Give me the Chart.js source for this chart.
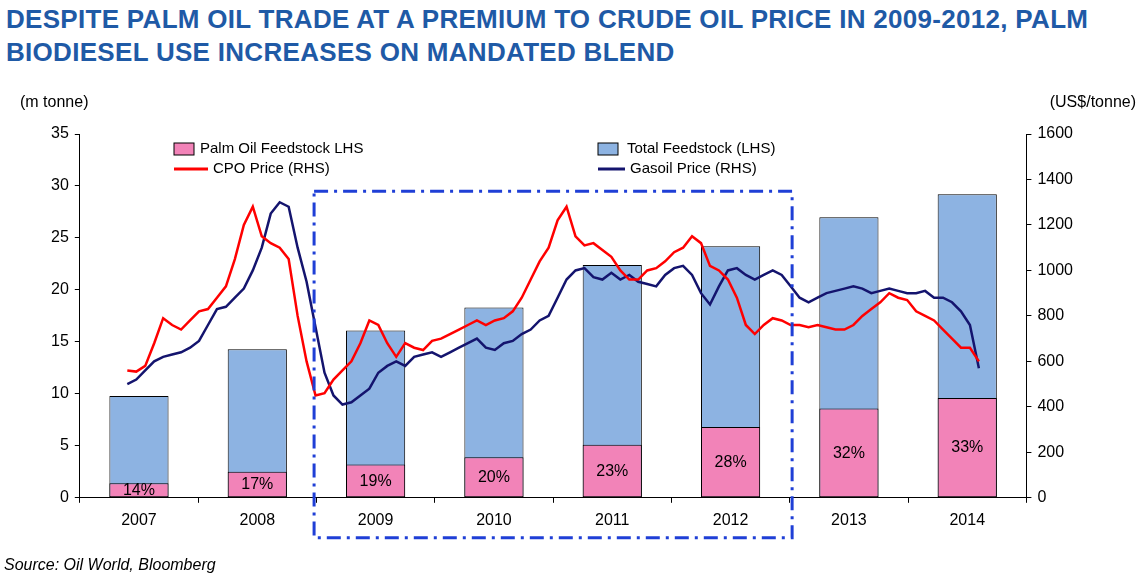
<!DOCTYPE html>
<html lang="en">
<head>
<meta charset="UTF-8">
<title>Palm Biodiesel</title>
<script src="https://cdn.jsdelivr.net/npm/chart.js"></script>
<style>
    body { margin: 0; background: #fff; font-family: "Liberation Sans", Arial, sans-serif; }
    .title {
        position: absolute; left: 6px; top: 3px;
        color: #1f5aa6; font-weight: bold; font-size: 26px; line-height: 33px;
        font-family: "Liberation Sans Narrow", "Arial Narrow", sans-serif;
        letter-spacing: 0.3px;
    }
    .wrap { position: absolute; left: 0; top: 0; width: 1143px; height: 580px; }
</style>
</head>
<body>
<div class="title">DESPITE PALM OIL TRADE AT A PREMIUM TO CRUDE OIL PRICE IN 2009-2012, PALM<br>BIODIESEL USE INCREASES ON MANDATED BLEND</div>
<div class="wrap"><canvas id="chart" width="1143" height="580"></canvas></div>
<script>
const years = ['2007', '2008', '2009', '2010', '2011', '2012', '2013', '2014'];
const totalFeedstock = [9.8, 14.3, 16.1, 18.3, 22.4, 24.2, 27.0, 29.2];
const palmFeedstock = [1.4, 2.5, 3.2, 3.9, 5.1, 6.8, 8.6, 9.6];
const palmShare = ['14%', '17%', '19%', '20%', '23%', '28%', '32%', '33%'];

// monthly, Jan 2007 - Dec 2014, US$/tonne
const cpoPrice = [
    560, 555, 580, 680, 790, 760, 740, 780, 820, 830, 880, 930,
    1050, 1200, 1280, 1150, 1120, 1100, 1050, 800, 600, 450, 460, 520,
    560, 600, 680, 780, 760, 680, 620, 680, 660, 650, 690, 700,
    720, 740, 760, 780, 760, 780, 790, 820, 880, 960, 1040, 1100,
    1220, 1280, 1150, 1110, 1120, 1090, 1060, 1000, 960, 960, 1000, 1010,
    1040, 1080, 1100, 1150, 1120, 1020, 1000, 960, 880, 760, 720, 760,
    790, 780, 760, 760, 750, 760, 750, 740, 740, 760, 800, 830,
    860, 900, 880, 870, 820, 800, 780, 740, 700, 660, 660, 600
];
const gasoilPrice = [
    500, 520, 560, 600, 620, 630, 640, 660, 690, 760, 830, 840,
    880, 920, 1000, 1100, 1250, 1300, 1280, 1100, 950, 750, 550, 450,
    410, 420, 450, 480, 550, 580, 600, 580, 620, 630, 640, 620,
    640, 660, 680, 700, 660, 650, 680, 690, 720, 740, 780, 800,
    880, 960, 1000, 1010, 970, 960, 990, 960, 980, 950, 940, 930,
    980, 1010, 1020, 980, 900, 850, 930, 1000, 1010, 980, 960, 980,
    1000, 980, 930, 880, 860, 880, 900, 910, 920, 930, 920, 900,
    910, 920, 910, 900, 900, 910, 880, 880, 860, 820, 760, 570
];

const toPoints = arr => arr.map((v, i) => ({ x: i + 0.5, y: v }));
const txt = '#000';
const font = { family: '"Liberation Sans", Arial, sans-serif', size: 16 };

const extras = {
    id: 'extras',
    afterDatasetsDraw(chart) {
        const ctx = chart.ctx, x = chart.scales.x, y = chart.scales.y, area = chart.chartArea;
        ctx.save();
        // percent labels
        ctx.font = '16px "Liberation Sans", Arial, sans-serif';
        ctx.fillStyle = txt; ctx.textAlign = 'center'; ctx.textBaseline = 'middle';
        palmShare.forEach((s, i) => {
            ctx.fillText(s, x.getPixelForValue(i), y.getPixelForValue(palmFeedstock[i] / 2));
        });
        // highlight box 2009-2012
        const band = x.getPixelForValue(1) - x.getPixelForValue(0);
        const l = x.getPixelForValue(2) - band * 0.52, r = x.getPixelForValue(5) + band * 0.52;
        const t = y.getPixelForValue(29.5), b = area.bottom + 40;
        ctx.strokeStyle = '#1f3fd6'; ctx.lineWidth = 3;
        ctx.setLineDash([14, 6, 3, 6]);
        ctx.strokeRect(l, t, r - l, b - t);
        ctx.setLineDash([]);
        // legend
        ctx.textAlign = 'left';
        ctx.font = '15px "Liberation Sans", Arial, sans-serif';
        ctx.lineWidth = 1; ctx.strokeStyle = '#000';
        ctx.fillStyle = '#f283b8'; ctx.fillRect(174, 143, 20, 12); ctx.strokeRect(174, 143, 20, 12);
        ctx.fillStyle = '#8db3e2'; ctx.fillRect(598, 143, 20, 12); ctx.strokeRect(598, 143, 20, 12);
        ctx.fillStyle = txt;
        ctx.fillText('Palm Oil Feedstock LHS', 200, 149);
        ctx.fillText('Total Feedstock (LHS)', 627, 149);
        ctx.fillText('CPO Price (RHS)', 213, 169);
        ctx.fillText('Gasoil Price (RHS)', 630, 169);
        ctx.lineWidth = 3;
        ctx.strokeStyle = '#ff0000'; ctx.beginPath(); ctx.moveTo(174, 169); ctx.lineTo(208, 169); ctx.stroke();
        ctx.strokeStyle = '#14146e'; ctx.beginPath(); ctx.moveTo(598, 169); ctx.lineTo(625, 169); ctx.stroke();
        // axis unit labels
        ctx.font = '16px "Liberation Sans", Arial, sans-serif';
        ctx.fillText('(m tonne)', 20, 103);
        ctx.textAlign = 'right';
        ctx.fillText('(US$/tonne)', 1136, 103);
        // source
        ctx.textAlign = 'left';
        ctx.font = 'italic 16px "Liberation Sans", Arial, sans-serif';
        ctx.fillText('Source: Oil World, Bloomberg', 4, 566);
        ctx.restore();
    }
};

new Chart(document.getElementById('chart').getContext('2d'), {
    type: 'bar',
    data: {
        labels: years,
        datasets: [
            { type: 'line', label: 'CPO Price (RHS)', data: toPoints(cpoPrice), xAxisID: 'xt', yAxisID: 'y2',
              borderColor: '#ff0000', borderWidth: 2.5, pointRadius: 0, order: 0 },
            { type: 'line', label: 'Gasoil Price (RHS)', data: toPoints(gasoilPrice), xAxisID: 'xt', yAxisID: 'y2',
              borderColor: '#14146e', borderWidth: 2.5, pointRadius: 0, order: 0 },
            { label: 'Palm Oil Feedstock LHS', data: palmFeedstock, backgroundColor: '#f283b8', grouped: false,
              borderColor: '#000', borderWidth: 1, borderSkipped: false, barPercentage: 0.5, categoryPercentage: 1, order: 1 },
            { label: 'Total Feedstock (LHS)', data: totalFeedstock, backgroundColor: '#8db3e2', grouped: false,
              borderColor: '#000', borderWidth: 1, borderSkipped: false, barPercentage: 0.5, categoryPercentage: 1, order: 2 }
        ]
    },
    options: {
        responsive: false,
        animation: false,
        layout: { padding: { top: 134, left: 45, right: 64, bottom: 42 } },
        plugins: { legend: { display: false }, tooltip: { enabled: false } },
        scales: {
            x: {
                offset: true,
                grid: { display: true, drawOnChartArea: false, offset: true, tickLength: 5, color: '#000' },
                border: { color: '#000' },
                ticks: { color: txt, font: font, padding: 8 }
            },
            xt: { type: 'linear', display: false, min: 0, max: 96 },
            y: {
                min: 0, max: 35, position: 'left',
                grid: { display: true, drawOnChartArea: false, tickLength: 5, color: '#000' },
                border: { color: '#000' },
                ticks: { stepSize: 5, color: txt, font: font, padding: 6 }
            },
            y2: {
                min: 0, max: 1600, position: 'right',
                grid: { display: true, drawOnChartArea: false, tickLength: 5, color: '#000' },
                border: { color: '#000' },
                ticks: { stepSize: 200, color: txt, font: font, padding: 6, callback: v => String(v) }
            }
        }
    },
    plugins: [extras]
});
</script>
</body>
</html>
